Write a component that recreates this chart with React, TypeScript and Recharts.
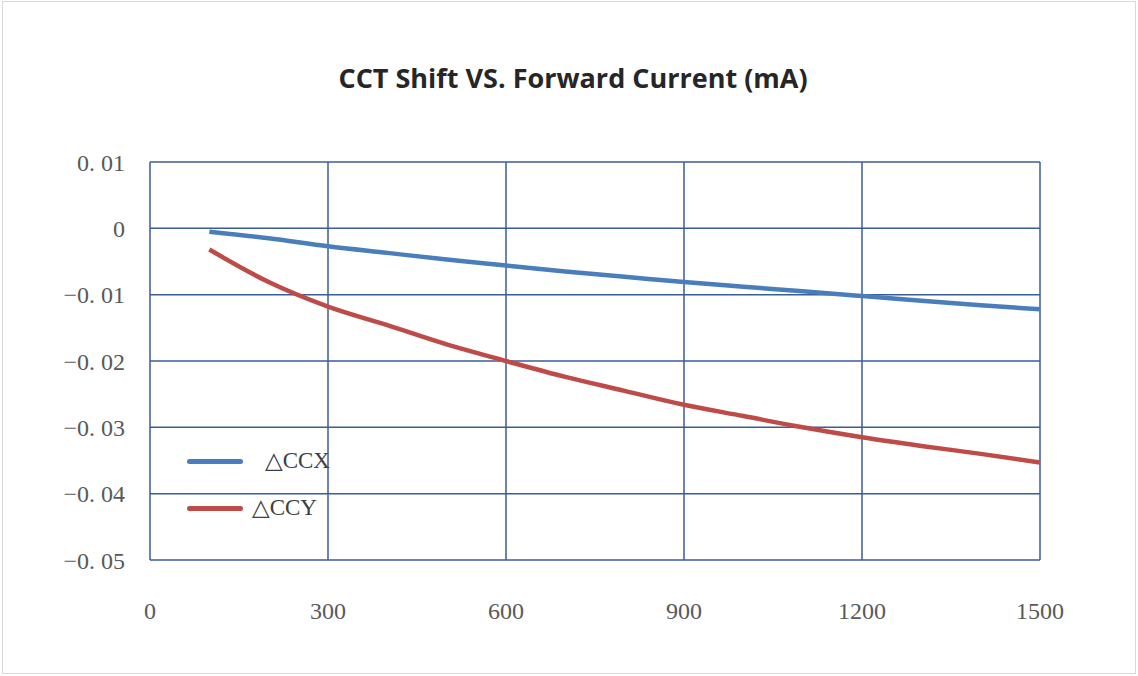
import React from 'react';
import { LineChart, Line, XAxis, YAxis, CartesianGrid } from 'recharts';

// forward current (mA)
const currents = [100, 200, 300, 400, 500, 600, 700, 800, 900, 1000, 1100, 1200, 1300, 1400, 1500];
const ccx = [-0.0005, -0.0015, -0.0027, -0.0037, -0.0047, -0.0056, -0.0065, -0.0073, -0.0081, -0.0088, -0.0095, -0.0102, -0.0109, -0.0116, -0.0122];
const ccy = [-0.0032, -0.0081, -0.0118, -0.0146, -0.0175, -0.0200, -0.0224, -0.0245, -0.0266, -0.0283, -0.0300, -0.0315, -0.0328, -0.0340, -0.0353];

const xTicks = [0, 300, 600, 900, 1200, 1500];
const yTicks = [0.01, 0, -0.01, -0.02, -0.03, -0.04, -0.05];

const data = currents.map((c, i) => ({ current: c, ccx: ccx[i], ccy: ccy[i] }));

const BLUE = '#4a7ebb';
const RED = '#be4b48';
const GRID = '#3a5d96';
const serif = '"Liberation Serif", "DejaVu Serif", serif';

const fmtY = (v: number) => {
  if (Math.abs(v) < 1e-9) return '0';
  const s = Math.abs(v).toFixed(2).replace('.', '. ');
  return v < 0 ? '\u2212' + s : s;
};

// legend sits inside the plot, lower left
const LegendBox = () => (
  <div style={{ position: 'absolute', left: 187, top: 445, width: 200, height: 80, fontFamily: serif, fontSize: 23, color: '#404040' }}>
    <div style={{ position: 'absolute', left: 0, top: 14, width: 56, height: 5, borderRadius: 3, background: BLUE }} />
    <div style={{ position: 'absolute', left: 78, top: 2, lineHeight: '28px' }}>△CCX</div>
    <div style={{ position: 'absolute', left: 0, top: 61, width: 56, height: 5, borderRadius: 3, background: RED }} />
    <div style={{ position: 'absolute', left: 65, top: 49, lineHeight: '28px' }}>△CCY</div>
  </div>
);

export default function App() {
  return (
    <div style={{ position: 'absolute', left: 0, top: 0, width: 1138, height: 676, background: '#fff' }}>
      <div style={{ position: 'absolute', left: 2, top: 1, width: 1132, height: 671, border: '1px solid #d9d9d9' }} />
      <div
        style={{
          position: 'absolute', left: 0, top: 60, width: 1146, textAlign: 'center', lineHeight: '36px',
          fontFamily: '"Open Sans", "Liberation Sans", sans-serif', fontWeight: 700, fontSize: 27, color: '#262626',
        }}
      >
        CCT Shift VS. Forward Current (mA)
      </div>
      <LineChart width={1138} height={676} data={data} margin={{ top: 162, right: 98, bottom: 66, left: 50 }}>
        <CartesianGrid stroke={GRID} strokeWidth={1.5} horizontalValues={yTicks} verticalValues={xTicks} />
        <XAxis
          dataKey="current"
          type="number"
          domain={[0, 1500]}
          ticks={xTicks}
          axisLine={false}
          tickLine={false}
          height={50}
          tick={{ fontFamily: serif, fontSize: 24, fill: '#595959' }}
          dy={34}
        />
        <YAxis
          type="number"
          domain={[-0.05, 0.01]}
          ticks={yTicks}
          tickFormatter={fmtY}
          axisLine={false}
          tickLine={false}
          width={100}
          tick={{ fontFamily: serif, fontSize: 24, fill: '#595959' }}
          dx={-17}
        />
        <Line type="monotone" dataKey="ccx" stroke={BLUE} strokeWidth={4.5} dot={false} isAnimationActive={false} />
        <Line type="monotone" dataKey="ccy" stroke={RED} strokeWidth={4.5} dot={false} isAnimationActive={false} />
      </LineChart>
      <LegendBox />
    </div>
  );
}
